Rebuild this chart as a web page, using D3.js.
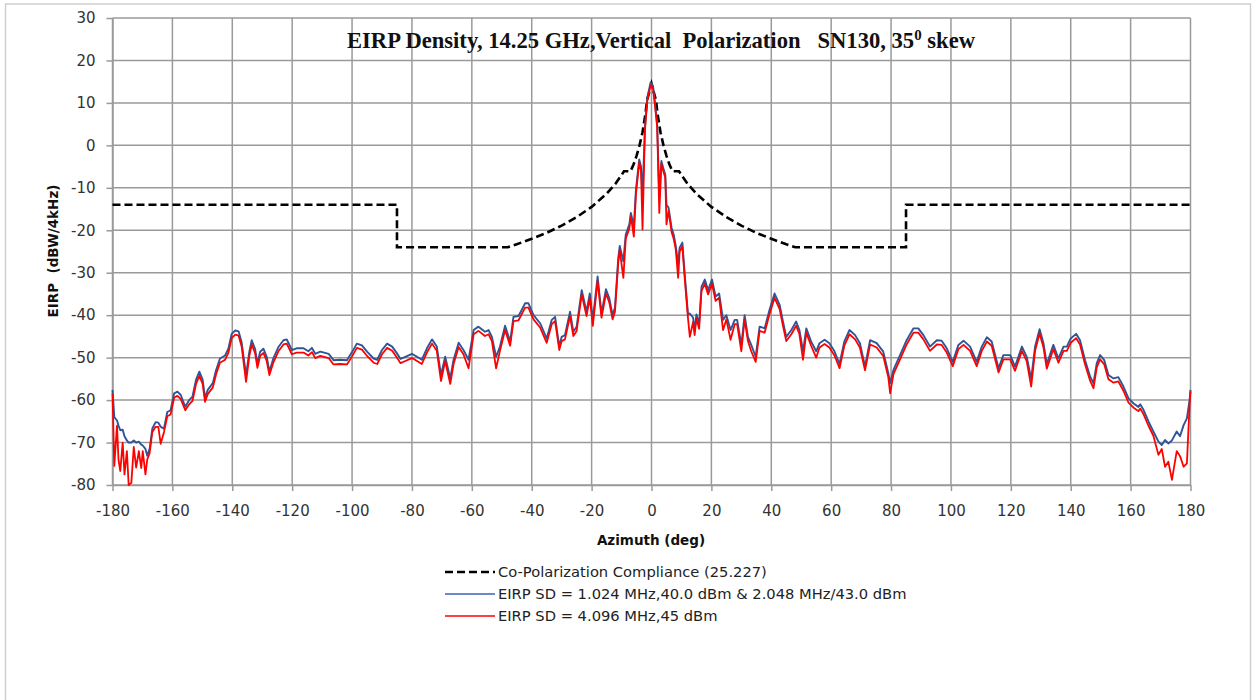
<!DOCTYPE html>
<html>
<head>
<meta charset="utf-8">
<script src="https://cdn.jsdelivr.net/npm/d3@7"></script>
<style>
  html, body { margin: 0; padding: 0; background: #fff; }
  svg { display: block; }
  .tick text { font-family: "DejaVu Sans", sans-serif; font-size: 15px; fill: #333; }
</style>
</head>
<body>
<svg id="chart" width="1252" height="700"></svg>
<script>
// Azimuth cut of measured EIRP spectral density vs. the 25.227 co-pol mask
const xTicks = [-180,-160,-140,-120,-100,-80,-60,-40,-20,0,20,40,60,80,100,120,140,160,180];
const yTicks = [30,20,10,0,-10,-20,-30,-40,-50,-60,-70,-80];

// Compliance mask (dBW/4kHz)
const maskAz  = [-180,-85,-85,-48,-45,-40,-35,-30,-25,-20,-15,-12,-10,-9.2,-7,-6,-5,-4,-3,-2,-1.5,0,1.5,2,3,4,5,6,7,9.2,10,12,15,20,25,30,35,40,45,48,85,85,180];
const maskVal = [-14,-14,-24,-24,-23.3,-22,-20.6,-18.9,-16.9,-14.5,-11.4,-9,-7,-6.1,-6.1,-4.5,-2.5,0,3.1,7.5,10.6,14.5,10.6,7.5,3.1,0,-2.5,-4.5,-6.1,-6.1,-7,-9,-11.4,-14.5,-16.9,-18.9,-20.6,-22,-23.3,-24,-24,-14,-14];

// Measured pattern azimuths (deg)
const az = [-180,-179.4,-178.5,-178,-177.4,-176.6,-176,-175.2,-174.6,-173.7,-172.9,-172.1,-171.2,-170.4,-169.9,-169,-168.4,-167.6,-166.7,-165.6,-164.7,-163.9,-162.8,-161.7,-160.6,-159.4,-158.3,-157.2,-155.7,-154.4,-153.3,-152.1,-151,-149.9,-149.1,-148.2,-146.5,-145.4,-144.1,-142.4,-141.3,-140.2,-139,-137.9,-136.9,-135.4,-134.3,-133.5,-132.4,-131.6,-130.7,-129.6,-128.5,-127.6,-126.3,-124.6,-122.9,-121.8,-120.1,-118.5,-116.2,-114.6,-113.4,-112.3,-110.6,-107.8,-106.2,-104,-101.7,-100,-98.4,-96.7,-95,-92.8,-91.6,-90,-88.3,-86.6,-85,-83.8,-82.2,-80,-78.3,-76.7,-75,-73.3,-71.7,-70.3,-68.9,-67.2,-66.1,-64.4,-62.8,-61.1,-59.4,-57.8,-55.6,-54.4,-53.3,-51.9,-50.6,-48.9,-47.2,-46.1,-44.4,-42.2,-41.1,-39.4,-37.2,-35,-33.3,-32.2,-30.8,-30,-28.9,-27.2,-26.1,-25,-23.3,-21.7,-20.6,-19.6,-18,-16.7,-15.2,-14.1,-13,-12.2,-11.1,-10.6,-9.4,-8.6,-7.4,-6.9,-5.9,-5.2,-4.1,-3.5,-3,-2.2,-1.4,-0.3,0.5,1.1,1.9,2.6,3.3,3.9,4.6,5,5.7,6.7,7.4,8.1,8.9,9.4,10.3,11.1,12.2,12.8,13.9,14.4,15,15.9,16.7,17.8,18.9,20.2,21.4,22.6,23.9,25,26.4,27.8,28.6,30,31.1,32.2,33.3,34.8,36.1,37.8,39.4,41.1,42.8,43.9,45,46.7,48.3,49.4,50.6,51.7,53.3,55,56.1,57.8,59.4,61.1,62.8,64.4,66.1,68,69.6,71.3,73,75.2,77.4,79.1,79.7,80.8,83,85.2,87.5,89.1,90.8,93,95.3,96.9,98.6,100.6,102.5,104.2,106.4,108.6,110.3,112,113.6,115.9,117.5,119.8,121.4,123.7,125.3,126.8,128.1,129.6,130.9,132,134.2,135.9,137.6,138.7,140,141.8,143.1,144.8,146.5,147.6,148.7,149.8,151.2,152.6,154.3,155.9,157.6,159.3,161,162.6,163.2,164.3,166,167.6,169.3,170.4,171.5,172.6,173.8,175.4,176.5,177.7,178.8,179.7,180];

// EIRP SD = 1.024 MHz,40.0 dBm & 2.048 MHz/43.0 dBm
const eirpLow = [-57.6,-64,-64.8,-66,-67.1,-67,-68.5,-69.5,-70,-70,-69.5,-70,-69.8,-70.5,-70.7,-71.5,-73.1,-71.5,-66.7,-65.2,-65.3,-66.3,-66.7,-62.8,-62.4,-58.4,-58,-58.8,-61.6,-60,-59.2,-55.2,-53.3,-55.2,-59.5,-57.6,-56,-52.9,-50.2,-49.5,-47.9,-44.4,-43.6,-43.8,-46.3,-54.1,-48.6,-45.9,-47.9,-51.4,-48.6,-47.9,-49.8,-53.3,-50.2,-47.5,-45.9,-45.7,-48.2,-47.8,-47.8,-48.5,-47.7,-49.1,-48.6,-49.1,-50.6,-50.5,-50.6,-48.7,-46.7,-47.1,-48.6,-50.2,-50.5,-48.2,-46.7,-47.4,-49,-50.3,-49.8,-49.1,-49.8,-50.5,-47.8,-45.7,-47.4,-54.1,-49.8,-54.9,-50.5,-46.5,-48.2,-50.5,-43.5,-42.7,-43.9,-43.5,-45.1,-49.8,-47.4,-42.5,-46.2,-40.4,-40.2,-37.2,-37.2,-40,-41.9,-45.5,-41.1,-40.4,-47.4,-45.1,-44.7,-39.2,-43.9,-42.7,-34.1,-39.2,-34.9,-41.1,-30.9,-39.6,-33.9,-36,-40,-38.2,-26.5,-23.7,-27.3,-21,-18.6,-15.9,-19,-10.5,-3.3,-5,-12,4.1,11.2,14.8,14,10.4,4.9,-12,-3.7,-5.3,-6.9,-14,-14.7,-19.4,-21,-23.7,-28,-24.1,-22.9,-30.4,-39.8,-39.6,-40.6,-43.7,-39.8,-42.2,-33.3,-31.6,-34.1,-31.6,-35.6,-34.9,-41.1,-40,-43.5,-41.1,-41.1,-47,-40,-45.1,-47,-49.8,-42.7,-43.1,-38.8,-34.9,-37.6,-41.5,-45.1,-43.5,-41.5,-43.5,-48.5,-43.1,-46.2,-48.5,-46.6,-45.8,-46.6,-48.5,-51.5,-46.2,-43.5,-44.7,-46.6,-52.1,-45.9,-46.6,-48.6,-53.7,-56,-52.9,-49.4,-45.9,-43.1,-43.1,-44.7,-47.4,-45.9,-46,-47.8,-51,-47,-46,-47.4,-51,-47.4,-45.2,-46.2,-52.5,-49.4,-49.4,-52.1,-47.4,-49.8,-55,-47.4,-43.3,-46.6,-51.5,-47,-50.2,-47.4,-47.4,-45.5,-44.4,-45.9,-50.6,-54.5,-56,-51.3,-49.4,-50.6,-54.1,-54.9,-54.6,-56.8,-59.6,-60.8,-61.6,-61,-62.3,-65.1,-67.4,-69.8,-70.6,-69.4,-70.2,-69.5,-67.4,-68.5,-65.9,-64.3,-60,-57.6];

// EIRP SD = 4.096 MHz,45 dBm
const eirpHigh = [-58.5,-75.5,-66,-74,-76.7,-70,-77.5,-72,-80,-79.5,-71,-75.9,-72,-76,-72,-77.5,-74,-72.5,-67.5,-66.3,-66.3,-70.3,-67.5,-63.8,-63.4,-59.4,-59,-59.8,-62.4,-61,-60.2,-56.2,-54.3,-56.2,-60.4,-58.6,-57,-53.9,-51.2,-50.5,-48.9,-45.4,-44.6,-44.8,-47.3,-55.7,-49.6,-46.9,-48.9,-52.4,-49.6,-48.9,-50.8,-54.1,-51.2,-48.5,-46.9,-46.7,-49.2,-48.8,-48.8,-49.5,-48.7,-50.1,-49.6,-50.1,-51.6,-51.5,-51.6,-49.7,-47.7,-48.1,-49.6,-51.2,-51.5,-49.2,-47.7,-48.4,-50,-51.3,-50.8,-50.1,-50.8,-51.5,-48.8,-46.7,-48.4,-55.5,-50.8,-56.2,-51.5,-47.5,-49.2,-52.5,-44.5,-43.7,-44.9,-44.5,-46.1,-52.5,-48.4,-43.5,-47.2,-41.4,-41.2,-38.2,-38.2,-41,-42.9,-46.5,-42.1,-41.4,-48.2,-46.1,-45.7,-40.2,-44.9,-43.7,-35.1,-40.2,-35.9,-42.5,-31.9,-40.6,-34.9,-37,-41,-39.2,-27.5,-24.7,-31.2,-22,-19.6,-16.6,-21.5,-11.5,-4,-6,-19.8,3.5,10.6,14.2,13.4,9.8,4.3,-15.9,-4.3,-6,-7.6,-18.6,-15.4,-20.4,-22,-24.5,-31.2,-25,-23.8,-31.4,-40.8,-45.1,-41.6,-44.7,-40.8,-43.2,-34.3,-32.6,-35.1,-32.6,-36.6,-35.9,-43.5,-41,-45.8,-42.1,-42.1,-48.5,-41,-46.1,-48.5,-51,-43.7,-44.1,-39.8,-35.9,-38.6,-42.5,-46.1,-44.5,-42.5,-44.5,-50.5,-44.1,-47.2,-50,-47.6,-46.8,-47.6,-49.5,-52.5,-47.2,-44.5,-45.7,-47.6,-53,-46.9,-47.6,-49.6,-54.7,-58.4,-53.9,-50.4,-46.9,-44.1,-44.1,-45.7,-48.4,-46.9,-47,-48.8,-52,-48,-47,-48.4,-52,-48.4,-46.2,-47.2,-53.5,-50.4,-50.4,-53.1,-48.4,-50.8,-56.8,-48.4,-44.3,-47.6,-52.6,-48,-51.2,-48.4,-48.4,-46.5,-45.4,-46.9,-51.6,-55.5,-57.2,-52.3,-50.4,-51.6,-55.1,-55.9,-55.6,-57.8,-60.6,-61.8,-62.6,-62,-63.3,-66.1,-68.4,-72.9,-71.5,-75.7,-74.5,-78.8,-72,-73.2,-75.7,-74.9,-61,-58];

const legendLabels = [
  "Co-Polarization Compliance (25.227)",
  "EIRP SD = 1.024 MHz,40.0 dBm & 2.048 MHz/43.0 dBm",
  "EIRP SD = 4.096 MHz,45 dBm"
];

const svg = d3.select("#chart");
const plot = { left: 112.5, right: 1190.5, top: 18, bottom: 485 };

const x = d3.scaleLinear().domain([-180, 180]).range([plot.left, plot.right]);
const y = d3.scaleLinear().domain([-80, 30]).range([plot.bottom, plot.top]);

// outer chart frame
svg.append("rect")
  .attr("x", 5.5).attr("y", 4).attr("width", 1245).attr("height", 800)
  .attr("fill", "#fff").attr("stroke", "#d0d0d0").attr("stroke-width", 1.5);

// gridlines
const grid = svg.append("g").attr("stroke", "#9a9a9a").attr("stroke-width", 1.5);
grid.selectAll(".gx").data(xTicks).join("line")
  .attr("x1", d => x(d)).attr("x2", d => x(d))
  .attr("y1", plot.top).attr("y2", plot.bottom);
grid.selectAll(".gy").data(yTicks).join("line")
  .attr("x1", plot.left).attr("x2", plot.right)
  .attr("y1", d => y(d)).attr("y2", d => y(d));

// axes
const xAxis = svg.append("g")
  .attr("transform", `translate(0,${plot.bottom})`)
  .call(d3.axisBottom(x).tickValues(xTicks).tickSize(6).tickSizeOuter(0).tickPadding(14).tickFormat(d3.format("d")));
const yAxis = svg.append("g")
  .attr("transform", `translate(${plot.left},0)`)
  .call(d3.axisLeft(y).tickValues(yTicks).tickSize(6).tickSizeOuter(0).tickPadding(11).tickFormat(d3.format("d")));
[xAxis, yAxis].forEach(g => {
  g.select(".domain").attr("stroke", "#9a9a9a").attr("stroke-width", 1.5);
  g.selectAll(".tick line").attr("stroke", "#9a9a9a").attr("stroke-width", 1.5);
});
xAxis.selectAll(".tick text").text(d => String(d).replace("\u2212", "-"));
yAxis.selectAll(".tick text").text(d => String(d).replace("\u2212", "-"));

// series
const lineGen = d3.line().x(d => x(d[0])).y(d => y(d[1]));
const maskPts = maskAz.map((a, i) => [a, maskVal[i]]);
const lowPts  = az.map((a, i) => [a, eirpLow[i]]);
const highPts = az.map((a, i) => [a, eirpHigh[i]]);

svg.append("path").datum(maskPts).attr("d", lineGen)
  .attr("fill", "none").attr("stroke", "#000").attr("stroke-width", 2.6)
  .attr("stroke-dasharray", "8,4");
svg.append("path").datum(lowPts).attr("d", lineGen)
  .attr("fill", "none").attr("stroke", "#2f5597").attr("stroke-width", 1.9)
  .attr("stroke-linejoin", "round");
svg.append("path").datum(highPts).attr("d", lineGen)
  .attr("fill", "none").attr("stroke", "#ff0000").attr("stroke-width", 1.8)
  .attr("stroke-linejoin", "round");

// title
const title = svg.append("text")
  .attr("x", 661).attr("y", 48)
  .attr("text-anchor", "middle")
  .attr("font-family", "'Liberation Serif', 'Times New Roman', serif")
  .attr("font-weight", "bold").attr("font-size", 22.6)
  .style("white-space", "pre").attr("fill", "#111");
title.append("tspan").text("EIRP Density, 14.25 GHz,Vertical  Polarization   SN130, 35");
title.append("tspan").attr("dy", -8).attr("font-size", 15).text("0");
title.append("tspan").attr("dy", 8).text(" skew");

// axis titles
svg.append("text")
  .attr("x", 651).attr("y", 545).attr("text-anchor", "middle")
  .attr("font-family", "'DejaVu Sans', sans-serif").attr("font-weight", "bold")
  .attr("font-size", 13.5).attr("fill", "#111")
  .text("Azimuth (deg)");
svg.append("text")
  .attr("transform", "translate(58,251) rotate(-90)").attr("text-anchor", "middle")
  .attr("font-family", "'DejaVu Sans', sans-serif").attr("font-weight", "bold")
  .attr("font-size", 13.5).attr("fill", "#111")
  .style("white-space", "pre")
  .text("EIRP  (dBW/4kHz)");

// legend
const legend = svg.append("g").attr("transform", "translate(445,572)");
const legendStyles = [
  { stroke: "#000", width: 2.6, dash: "8,4" },
  { stroke: "#3b64b0", width: 1.6, dash: null },
  { stroke: "#ff0000", width: 1.6, dash: null }
];
legendLabels.forEach((label, i) => {
  const row = legend.append("g").attr("transform", `translate(0,${i * 22})`);
  row.append("line").attr("x1", 0).attr("x2", 50).attr("y1", 0).attr("y2", 0)
    .attr("stroke", legendStyles[i].stroke).attr("stroke-width", legendStyles[i].width)
    .attr("stroke-dasharray", legendStyles[i].dash);
  row.append("text").attr("x", 53).attr("y", 5)
    .attr("font-family", "'DejaVu Sans', sans-serif").attr("font-size", 14.7)
    .attr("fill", "#222").text(label);
});
</script>
</body>
</html>
